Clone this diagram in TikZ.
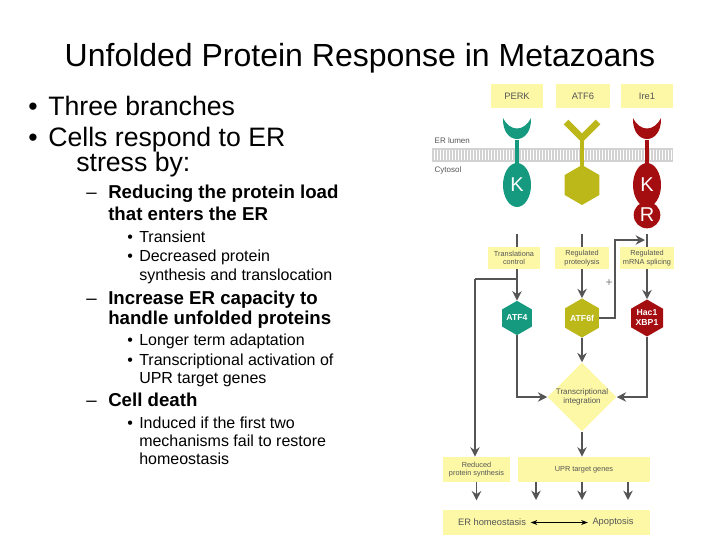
\documentclass[tikz,border=0pt]{standalone}
\usepackage{fontspec}
\setmainfont{Liberation Sans}
\usetikzlibrary{shapes.geometric,arrows.meta,backgrounds}
\definecolor{teal1}{HTML}{159A80}
\definecolor{olive1}{HTML}{BDB81A}
\definecolor{red1}{HTML}{A50E10}
\definecolor{ybox}{HTML}{FDF8A6}
\definecolor{arr}{HTML}{555555}
\definecolor{txt}{HTML}{555555}
\begin{document}
\begin{tikzpicture}[x=0.75pt,y=-0.75pt,
  yb/.style={fill=ybox,draw=none,inner sep=0pt,align=center,text=txt,font=\fontsize{5.5}{6.5}\selectfont},
  ar/.style={draw=arr,line width=1.3pt,-{Stealth[length=7pt,width=7pt]}},
  ln/.style={draw=arr,line width=1.3pt},
  hx/.style={regular polygon,regular polygon sides=6,shape border rotate=30,inner sep=0pt,text=white,font=\bfseries\fontsize{6.5}{7.5}\selectfont,align=center},
  t1/.style={anchor=base west,inner sep=0pt,font=\fontsize{20}{22}\selectfont},
  t2/.style={anchor=base west,inner sep=0pt,font=\fontsize{14}{15}\selectfont},
  t2b/.style={t2,font=\bfseries\fontsize{14}{15}\selectfont},
  t3/.style={anchor=base west,inner sep=0pt,font=\fontsize{12}{13}\selectfont}]
\useasboundingbox (0,0) rectangle (720,540);
\node[font=\fontsize{24}{27}\selectfont] (title) at (360,58) {Unfolded Protein Response in Metazoans};
% text
\node[t1] (b1) at (28,115) {•}; \node[t1] (l1) at (48,115) {Three branches};
\node[t1] (b2) at (28,146) {•}; \node[t1] (l2) at (48,146) {Cells respond to ER};
\node[t1] (l3) at (76,171) {stress by:};
\node[t2] (d1) at (86,198) {–}; \node[t2b] (s1) at (108,198) {Reducing the protein load};
\node[t2b] (s1b) at (108,220) {that enters the ER};
\node[t3] (e1) at (127,242) {•}; \node[t3] (u1) at (139,242) {Transient};
\node[t3] (e2) at (127,261) {•}; \node[t3] (u2) at (139,261) {Decreased protein};
\node[t3] (u2b) at (139,280) {synthesis and translocation};
\node[t2] (d2) at (86,304) {–}; \node[t2b] (s2) at (108,304) {Increase ER capacity to};
\node[t2b] (s2b) at (108,324) {handle unfolded proteins};
\node[t3] (e3) at (127,345) {•}; \node[t3] (u3) at (139,345) {Longer term adaptation};
\node[t3] (e4) at (127,365) {•}; \node[t3] (u4) at (139,365) {Transcriptional activation of};
\node[t3] (u4b) at (139,383) {UPR target genes};
\node[t2] (d3) at (86,406) {–}; \node[t2b] (s3) at (108,406) {Cell death};
\node[t3] (e5) at (127,428) {•}; \node[t3] (u5) at (139,428) {Induced if the first two};
\node[t3] (u5b) at (139,446) {mechanisms fail to restore};
\node[t3] (u5c) at (139,464) {homeostasis};
% top labels
\node[yb,minimum width=39pt,minimum height=18pt] (perk) at (517,96) {\fontsize{7}{8}\selectfont PERK};
\node[yb,minimum width=40pt,minimum height=18pt] (atf6) at (583,96) {\fontsize{7}{8}\selectfont ATF6};
\node[yb,minimum width=39pt,minimum height=18pt] (ire1) at (647,96) {\fontsize{7}{8}\selectfont Ire1};
% membrane
\fill[gray!35] (432,148) rectangle (673,162);
\foreach \x in {434,437,...,672} \draw[white,line width=0.4pt] (\x,150) -- (\x,160);
\node[anchor=west,text=txt,font=\fontsize{6}{7}\selectfont] (lum) at (430,141) {ER lumen};
\node[anchor=west,text=txt,font=\fontsize{6}{7}\selectfont] (cyt) at (430,170) {Cytosol};
% PERK
\fill[teal1] (503,118) .. controls (502,146) and (532,146) .. (531,118) .. controls (524,132) and (510,132) .. cycle;
\fill[teal1] (515,140) rectangle (519,168);
\node[ellipse,fill=teal1,minimum width=21pt,minimum height=33pt,inner sep=0pt,text=white,font=\fontsize{15}{16}\selectfont] (pk) at (517,185) {K};
% ATF6
\draw[olive1,line width=5pt] (566,122) -- (582,138) -- (598,122);
\fill[olive1] (580,136) rectangle (584,168);
\node[hx,fill=olive1,minimum size=30pt] (ah) at (582,185) {};
% Ire1
\fill[red1] (633,118) .. controls (632,146) and (662,146) .. (661,118) .. controls (654,132) and (640,132) .. cycle;
\fill[red1] (645,140) rectangle (649,168);
\node[circle,fill=red1,minimum size=20pt,inner sep=0pt,text=white,font=\fontsize{15}{16}\selectfont] (ir) at (647,215) {R};
\node[ellipse,fill=red1,minimum width=21pt,minimum height=33pt,inner sep=0pt,text=white,font=\fontsize{15}{16}\selectfont] (ik) at (647,185) {K};
% middle boxes
\node[yb,minimum width=39pt,minimum height=17pt] (tc) at (514,258) {Translationa\\control};
\node[yb,minimum width=41pt,minimum height=17pt] (rp) at (582,258) {Regulated\\proteolysis};
\node[yb,minimum width=40pt,minimum height=17pt] (rs) at (647,258) {Regulated\\mRNA splicing};
% hexes
\node[hx,fill=teal1,minimum size=25pt] (atf4) at (517,318) {ATF4};
\node[hx,fill=olive1,minimum size=25pt] (atf6f) at (582,318) {ATF6f};
\node[hx,fill=red1,minimum size=25pt] (hac) at (647,318) {Hac1\\XBP1};
\node[diamond,fill=ybox,minimum width=50pt,minimum height=50pt,inner sep=0pt,align=center,text=txt,font=\fontsize{6}{7}\selectfont] (ti) at (582,397) {Transcriptional\\integration};
% bottom boxes
\node[yb,minimum width=50pt,minimum height=19pt] (rps) at (476.5,469.5) {Reduced\\protein synthesis};
\node[yb,minimum width=99pt,minimum height=19pt] (upr) at (584,469.5) {UPR target genes};
\node[yb,minimum width=155pt,minimum height=19pt] (bot) at (546.5,522.5) {};
\node[text=txt,font=\fontsize{7}{8}\selectfont] (erh) at (492,522.5) {ER homeostasis};
\node[text=txt,font=\fontsize{7}{8}\selectfont] (apo) at (613,522.5) {Apoptosis};
\coordinate (c1) at (517,234); \coordinate (c2) at (582,234); \coordinate (c3) at (647,234);
\coordinate (j1) at (517,279); \coordinate (j2) at (475,279);
% connectors
\begin{scope}[on background layer]
\draw[ln] (c1) -- (j1); \draw[ar] (j1) -- (atf4.north);
\draw[ln] (j1) -- (j2); \draw[ar] (j2) -- (j2|-rps.north);
\draw[ar] (c2) -- (atf6f.north);
\draw[ar] (c3) -- (hac.north);
\end{scope}
\draw[ar] (atf6f.east) -| (615,240) -- (645,240);
\node[text=gray,font=\fontsize{9}{10}\selectfont] (plus) at (609,283) {+};
\draw[ar] (atf4.south) |- (ti.west);
\draw[ar] (hac.south) |- (ti.east);
\draw[ar] (atf6f.south) -- (ti.north);
\draw[ar] (ti.south) -- (upr.north-|ti.south);
\draw[ar] (rps.south) -- ++(0,18);
\draw[ar] (536,482) -- ++(0,18);
\draw[ar] (582,482) -- ++(0,18);
\draw[ar] (628,482) -- ++(0,18);
\draw[black,line width=0.8pt,{Stealth[length=5pt]}-{Stealth[length=5pt]}] (erh.east) -- (apo.west);
\end{tikzpicture}
\end{document}
